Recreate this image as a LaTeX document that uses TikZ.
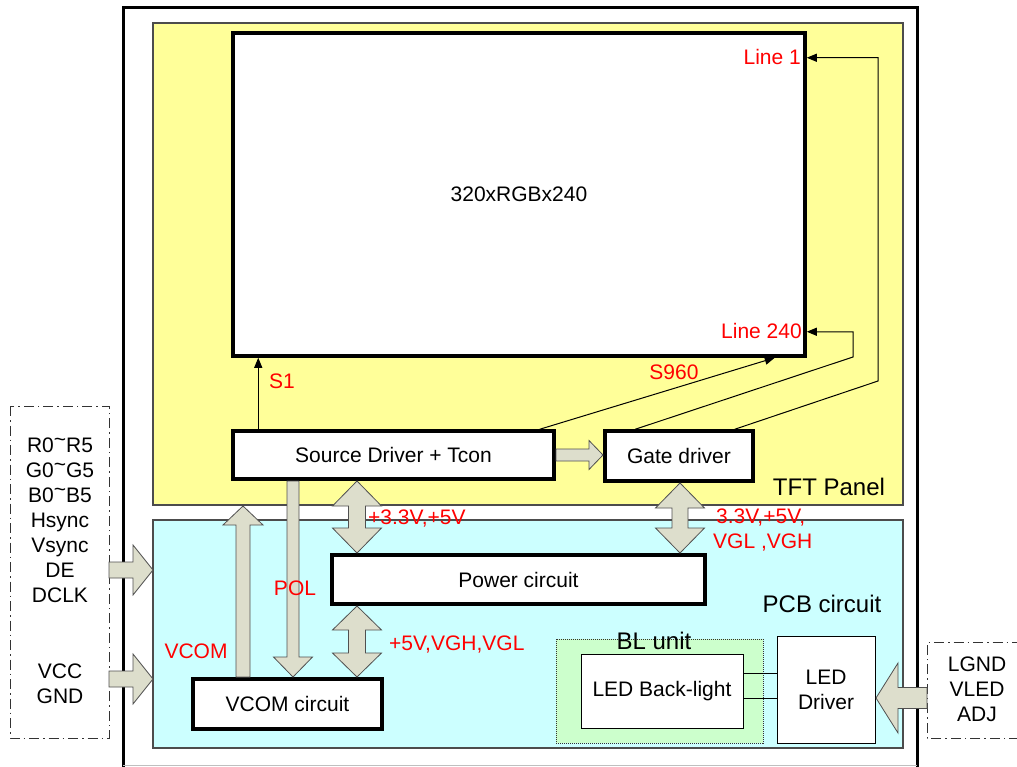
\documentclass[tikz,border=0pt]{standalone}
\usepackage{fontspec}
\setmainfont{Liberation Sans}
\usetikzlibrary{arrows.meta,calc}
\definecolor{tftyellow}{RGB}{255,255,153}
\definecolor{pcbcyan}{RGB}{204,255,255}
\definecolor{blgreen}{RGB}{204,255,204}
\definecolor{arrfill}{RGB}{221,222,204}
\definecolor{arredge}{RGB}{80,80,80}
\definecolor{lblred}{RGB}{255,0,0}
\newcommand\htilde{\raisebox{.28em}{\textasciitilde}}
% block arrows: vertical double (x, ytop, ybot, half shaft, half head, head length)
\newcommand\blkDbl[6]{\filldraw[blockarrow] (#1,#2) -- ({#1+#5},{#2+#6}) -- ({#1+#4},{#2+#6}) -- ({#1+#4},{#3-#6}) -- ({#1+#5},{#3-#6}) -- (#1,#3) -- ({#1-#5},{#3-#6}) -- ({#1-#4},{#3-#6}) -- ({#1-#4},{#2+#6}) -- ({#1-#5},{#2+#6}) -- cycle;}
% up (x, ytip, ybase, hs, hh, hl)
\newcommand\blkUp[6]{\filldraw[blockarrow] (#1,#2) -- ({#1+#5},{#2+#6}) -- ({#1+#4},{#2+#6}) -- ({#1+#4},#3) -- ({#1-#4},#3) -- ({#1-#4},{#2+#6}) -- ({#1-#5},{#2+#6}) -- cycle;}
% down (x, ytip, ybase, hs, hh, hl)
\newcommand\blkDown[6]{\filldraw[blockarrow] (#1,#2) -- ({#1+#5},{#2-#6}) -- ({#1+#4},{#2-#6}) -- ({#1+#4},#3) -- ({#1-#4},#3) -- ({#1-#4},{#2-#6}) -- ({#1-#5},{#2-#6}) -- cycle;}
% right (y, xtip, xbase, hs, hh, hl)
\newcommand\blkRight[6]{\filldraw[blockarrow] (#2,#1) -- ({#2-#6},{#1+#5}) -- ({#2-#6},{#1+#4}) -- (#3,{#1+#4}) -- (#3,{#1-#4}) -- ({#2-#6},{#1-#4}) -- ({#2-#6},{#1-#5}) -- cycle;}
% left (y, xtip, xbase, hs, hh, hl)
\newcommand\blkLeft[6]{\filldraw[blockarrow] (#2,#1) -- ({#2+#6},{#1+#5}) -- ({#2+#6},{#1+#4}) -- (#3,{#1+#4}) -- (#3,{#1-#4}) -- ({#2+#6},{#1-#4}) -- ({#2+#6},{#1-#5}) -- cycle;}
\begin{document}
\begin{tikzpicture}[x=1pt,y=-1pt,
  every node/.style={font=\fontsize{21}{25}\selectfont, inner sep=0pt},
  thickbox/.style={draw=black, line width=3.5pt, fill=white, align=center},
  thinbox/.style={draw=black, line width=1pt, fill=white, align=center},
  region/.style={draw=black!70, line width=1.2pt},
  lbl/.style={text=lblred},
  header/.style={font=\fontsize{24}{28}\selectfont},
  conn/.style={draw=black, line width=1pt, -{Triangle[length=10pt,width=8pt]}},
  plain/.style={draw=black, line width=1pt},
  blockarrow/.style={fill=arrfill, draw=arredge, line width=0.8pt},
  sigbox/.style={draw=black!80, line width=1pt, dash pattern=on 10pt off 4pt on 1.5pt off 4pt}]
\useasboundingbox (0,0) rectangle (1017,767);
\clip (0,0) rectangle (1017,767);
\fill[white] (0,0) rectangle (1017,767);

% outer frame
\draw[line width=3pt] (123,770) -- (123,8) -- (917,8) -- (917,770);
\draw[black!25, line width=1pt] (123,765.5) -- (917,765.5);

% regions
\draw[region, fill=tftyellow] (153,23) rectangle (903,505);
\draw[region, fill=pcbcyan] (153,520) rectangle (903,748);
\draw[sigbox] (10,406) rectangle (109,738);
\draw[sigbox] (1040,642) rectangle (927,738);
\draw[fill=blgreen, draw=black!80, line width=1pt, densely dotted] (556,639) rectangle (763,743);

% boxes
\node[thickbox, minimum width=572pt, minimum height=323pt] (disp) at (519,194.5) {320xRGBx240};
\node[thickbox, minimum width=321pt, minimum height=48pt] (src) at (393.5,455) {Source Driver + Tcon};
\node[thickbox, minimum width=148pt, minimum height=50pt] (gate) at (679,456) {Gate driver};
\node[thickbox, minimum width=373pt, minimum height=49pt] (pwr) at (518.5,579.5) {Power circuit};
\node[thickbox, minimum width=189pt, minimum height=50pt] (vcom) at (287.5,704) {VCOM circuit};
\node[thinbox, minimum width=162pt, minimum height=74pt] (bl) at (662,691) {LED Back-light};
\node[thinbox, minimum width=98pt, minimum height=107pt] (drv) at (826,689.5) {LED\\Driver};

% headers
\node[header] (tftlbl) at (829,487) {TFT Panel};
\node[header] (pcblbl) at (822,604) {PCB circuit};
\node[header] (bllbl) at (654,641) {BL unit};

% signal texts
\node[align=center] (sig) at (60,520.5) {R0\htilde R5\\G0\htilde G5\\B0\htilde B5\\Hsync\\Vsync\\DE\\DCLK};
\node[align=center] (pwrin) at (60,684) {VCC\\GND};
\node[align=center] (ledin) at (977,689) {LGND\\VLED\\ADJ};

% thin connectors
\coordinate (g240) at (853,357);
\coordinate (g1) at (878,381);
\draw[conn] ([xshift=27pt]src.north west) -- ([xshift=27pt]src.north west |- disp.south);
\draw[conn] ([xshift=-16pt]src.north east) -- ([xshift=-32pt]disp.south east);
\draw[conn] ([xshift=32pt]gate.north west) -- (g240) |- ([yshift=26pt]disp.south east);
\draw[conn] ([xshift=-20pt]gate.north east) -- (g1) |- ([yshift=-26.5pt]disp.north east);
\draw[plain] ([yshift=18pt]bl.east) -- ([yshift=18pt]bl.east -| drv.west);
\draw[plain] ([yshift=-7pt]bl.east) -- ([yshift=-7pt]bl.east -| drv.west);

% block arrows
\blkRight{455}{603}{556}{6}{14.5}{14}
\blkRight{570}{153}{109}{8}{25}{20}
\blkRight{679}{153}{109}{8}{25}{20}
\blkLeft{698}{876}{927}{10.5}{35}{22}
\blkUp{243}{506}{677}{7}{20}{19}
\blkDown{293}{677}{481}{6}{19.5}{20}
\blkDbl{357}{481}{553}{8.5}{24.5}{25}
\blkDbl{357}{606}{677}{8.5}{24.5}{24}
\blkDbl{680}{483}{553}{8}{24.5}{25}

% red labels
\node[lbl, anchor=east] (l1) at (801,57) {Line 1};
\node[lbl, anchor=east] (l240) at (802,331) {Line 240};
\node[lbl] (s1) at (282,381) {S1};
\node[lbl] (s960) at (674,372) {S960};
\node[lbl] (pol) at (295,588) {POL};
\node[lbl] (vcoml) at (196,651) {VCOM};
\node[lbl, anchor=west] (v1) at (368,519) {+3.3V,+5V};
\node[lbl, anchor=west] (v2) at (716,518) {3.3V,+5V,};
\node[lbl, anchor=west] (v3) at (713,543) {VGL ,VGH};
\node[lbl, anchor=west] (v4) at (389,645) {+5V,VGH,VGL};
\end{tikzpicture}
\end{document}
